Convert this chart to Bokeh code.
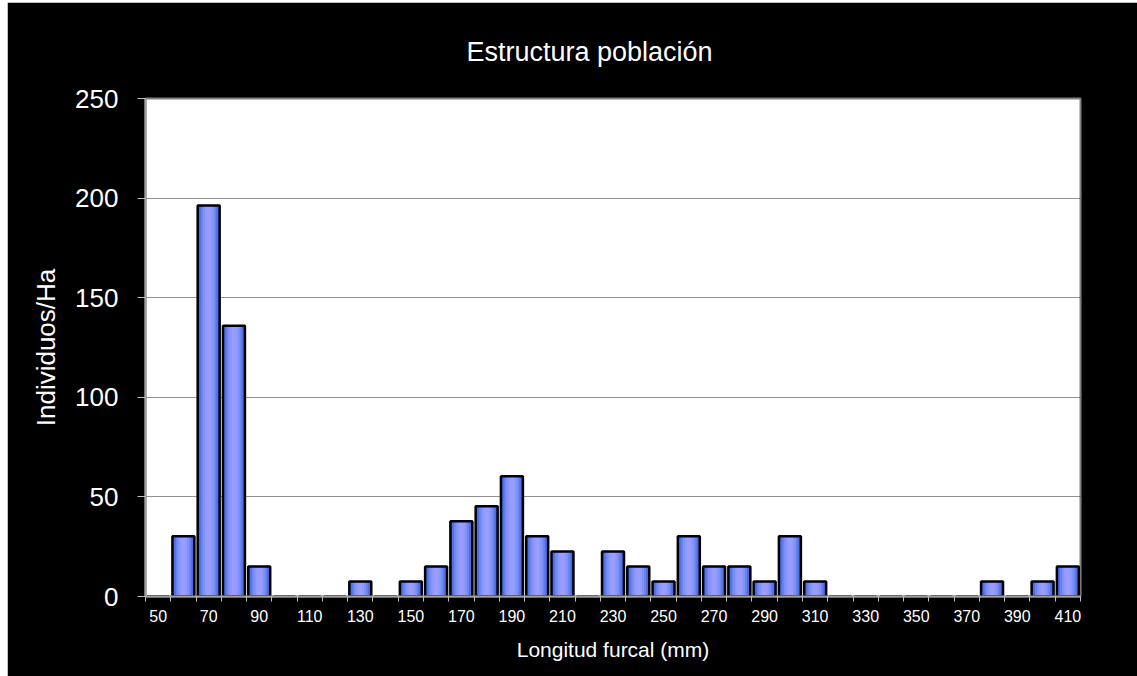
from bokeh.plotting import figure
from bokeh.models import FixedTicker, ColumnDataSource, Range1d
from bokeh.embed import file_html
from bokeh.resources import INLINE

# ---- data ----
lengths = [50, 60, 70, 80, 90, 100, 110, 120, 130, 140, 150, 160, 170, 180, 190,
           200, 210, 220, 230, 240, 250, 260, 270, 280, 290, 300, 310, 320, 330,
           340, 350, 360, 370, 380, 390, 400, 410]
individuos = [0, 30.2, 196.3, 135.9, 15.1, 0, 0, 0, 7.55, 0, 7.55, 15.1, 37.75,
              45.3, 60.4, 30.2, 22.65, 0, 22.65, 15.1, 7.55, 30.2, 15.1, 15.1,
              7.55, 30.2, 7.55, 0, 0, 0, 0, 0, 0, 7.55, 0, 7.55, 15.1]
x_label_ticks = [50, 70, 90, 110, 130, 150, 170, 190, 210, 230, 250, 270, 290,
                 310, 330, 350, 370, 390, 410]
x_boundaries = [45 + 10 * i for i in range(38)]
y_ticks = [0, 50, 100, 150, 200, 250]
y_grid = [50, 100, 150, 200]

FONT = "Liberation Sans"

src = ColumnDataSource(dict(x=lengths, top=individuos))

p = figure(width=1130, height=674, output_backend="svg", toolbar_location=None,
           x_range=Range1d(45, 415), y_range=Range1d(0, 250),
           min_border_left=138, min_border_right=57, min_border_top=96,
           min_border_bottom=80)
p.margin = (2, 0, 0, 7)

p.background_fill_color = "white"
p.border_fill_color = "black"
p.outline_line_color = "#808080"
p.outline_line_width = 2

# title
p.title.text = "Estructura población"
p.title.align = "left"
p.title.offset = 321
p.title.text_font = FONT
p.title.text_font_size = "27px"
p.title.text_font_style = "normal"
p.title.text_color = "white"
p.title.standoff = 64

# gradient-like bars: layered fills, then outline
layers = [(8.7, "#3D5BD9"), (7.4, "#5270E4"), (6.0, "#6A84EE"),
          (4.6, "#7F92F6"), (3.0, "#9099FC"), (1.6, "#9A9CFF")]
for w, c in layers:
    p.vbar(x="x", top="top", bottom=0, width=w, source=src,
           fill_color=c, line_color=None)
p.vbar(x="x", top="top", bottom=0, width=8.7, source=src,
       fill_color=None, line_color="black", line_width=2.5)

# grid
p.xgrid.grid_line_color = None
p.ygrid.ticker = FixedTicker(ticks=y_grid)
p.ygrid.grid_line_color = "#202020"
p.ygrid.grid_line_width = 1
p.ygrid.grid_line_dash = "1 1"

# x axis
xa = p.xaxis[0]
xa.ticker = FixedTicker(ticks=x_label_ticks, minor_ticks=x_boundaries)
xa.major_tick_out = 0
xa.major_tick_in = 0
xa.minor_tick_out = 5
xa.minor_tick_in = 0
xa.minor_tick_line_color = "#c0c0c0"
xa.axis_line_color = "#a0a0a0"
xa.axis_line_width = 2
xa.major_label_text_font = FONT
xa.major_label_text_font_size = "16px"
xa.major_label_text_color = "white"
xa.major_label_standoff = 8
xa.axis_label = "Longitud furcal (mm)"
xa.axis_label_text_font = FONT
xa.axis_label_text_font_size = "21px"
xa.axis_label_text_font_style = "normal"
xa.axis_label_text_color = "white"
xa.axis_label_standoff = 13

# y axis
ya = p.yaxis[0]
ya.ticker = FixedTicker(ticks=y_ticks)
ya.major_tick_out = 8
ya.major_tick_in = 0
ya.minor_tick_out = 0
ya.minor_tick_in = 0
ya.major_tick_line_color = "#c0c0c0"
ya.axis_line_color = "#a0a0a0"
ya.axis_line_width = 2
ya.major_label_text_font = FONT
ya.major_label_text_font_size = "26px"
ya.major_label_text_color = "white"
ya.major_label_standoff = 19
ya.axis_label = "Individuos/Ha"
ya.axis_label_text_font = FONT
ya.axis_label_text_font_size = "26px"
ya.axis_label_text_font_style = "normal"
ya.axis_label_text_color = "white"
ya.axis_label_standoff = 11

open("out.html", "w").write(file_html(p, INLINE))
